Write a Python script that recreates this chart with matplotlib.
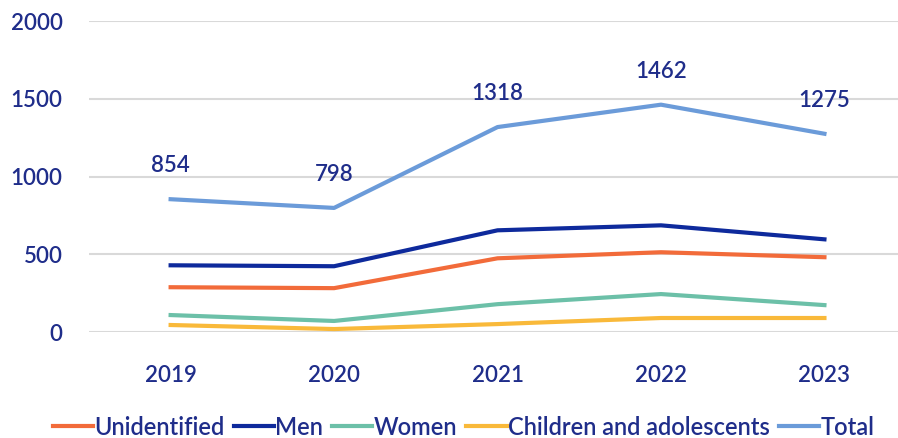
import matplotlib.pyplot as plt

years = ["2019", "2020", "2021", "2022", "2023"]
unidentified = [288, 282, 474, 513, 481]
men = [429, 423, 654, 686, 596]
women = [109, 71, 179, 244, 173]
children = [45, 19, 51, 90, 90]
total = [854, 798, 1318, 1462, 1275]

navy = "#1f2d8a"
plt.rcParams["font.family"] = ["Lato", "DejaVu Sans"]
plt.rcParams["font.weight"] = "semibold"

fig = plt.figure(figsize=(8.98, 4.38), dpi=100)
ax = fig.add_axes([0.099, 0.242, 0.901, 0.71])

x = range(len(years))
ax.plot(x, unidentified, color="#f26b3a", lw=3, label="Unidentified")
ax.plot(x, men, color="#0e2a9c", lw=3, label="Men")
ax.plot(x, women, color="#6cc0a8", lw=3, label="Women")
ax.plot(x, children, color="#f9b93a", lw=3, label="Children and adolescents")
ax.plot(x, total, color="#6b9bd9", lw=3, label="Total")

for i, v in zip(x, total):
    ax.annotate(str(v), (i, v), xytext=(0, 24), textcoords="offset points",
                ha="center", va="center", fontsize=16, color=navy)

ax.set_ylim(0, 2000)
ax.set_yticks([0, 500, 1000, 1500, 2000])
ax.set_xlim(-0.5, 4.45)
ax.set_xticks(list(x))
ax.set_xticklabels(years)
ax.grid(axis="y", color="#d9d9d9", lw=1.5)
ax.set_axisbelow(True)
for s in ax.spines.values():
    s.set_visible(False)
ax.tick_params(axis="both", length=0, labelsize=16, labelcolor=navy)
ax.tick_params(axis="y", pad=19)
ax.tick_params(axis="x", pad=24)

ax.legend(loc="center", bbox_to_anchor=(0.463, -0.306), ncol=5, frameon=False,
          fontsize=17, labelcolor=navy, handlelength=1.7, handletextpad=0.05,
          columnspacing=0.4)

plt.savefig("out.png", dpi=100)
